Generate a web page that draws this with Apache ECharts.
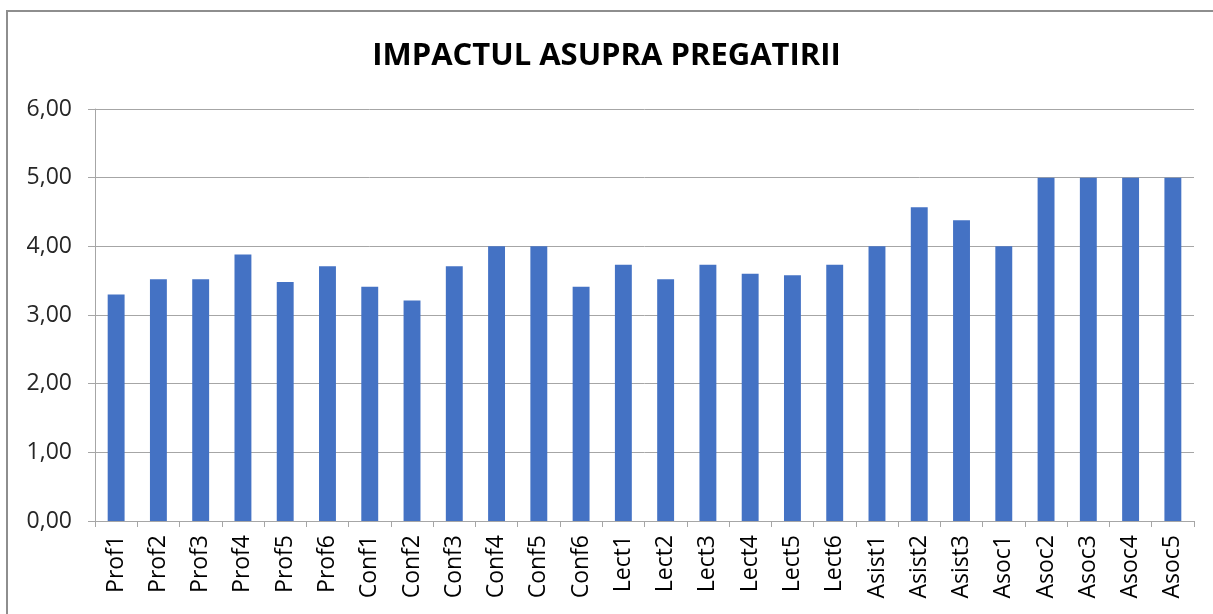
<!DOCTYPE html>
<html>
<head>
<meta charset="utf-8">
<script src="https://cdn.jsdelivr.net/npm/echarts@6/dist/echarts.min.js"></script>
<style>
  html, body { margin: 0; padding: 0; background: #fff; overflow: hidden; }
  #frame {
    position: absolute; left: 6px; top: 10px;
    width: 1240px; height: 640px;
    border: 2px solid #8e8e8e; box-sizing: border-box;
  }
  #chart { position: absolute; left: 0; top: 0; width: 1213px; height: 614px; }
</style>
</head>
<body>
<div id="frame"></div>
<div id="chart"></div>
<script>
const categories = [
  "Prof1", "Prof2", "Prof3", "Prof4", "Prof5", "Prof6",
  "Conf1", "Conf2", "Conf3", "Conf4", "Conf5", "Conf6",
  "Lect1", "Lect2", "Lect3", "Lect4", "Lect5", "Lect6",
  "Asist1", "Asist2", "Asist3",
  "Asoc1", "Asoc2", "Asoc3", "Asoc4", "Asoc5"
];
const values = [
  3.30, 3.52, 3.52, 3.88, 3.48, 3.71,
  3.41, 3.21, 3.71, 4.00, 4.00, 3.41,
  3.73, 3.52, 3.73, 3.60, 3.58, 3.73,
  4.00, 4.57, 4.38,
  4.00, 5.00, 5.00, 5.00, 5.00
];
const chartTitle = "IMPACTUL ASUPRA PREGATIRII";

const chart = echarts.init(document.getElementById("chart"));
chart.setOption({
  animation: false,
  title: {
    text: chartTitle,
    left: "center",
    top: 36,
    textStyle: {
      fontFamily: "Open Sans",
      fontWeight: "bold",
      fontSize: 31,
      color: "#000"
    }
  },
  grid: { left: 95, right: 19, top: 109, bottom: 93, containLabel: false },
  xAxis: {
    type: "category",
    data: categories,
    axisLine: { lineStyle: { color: "#a6a6a6", width: 1 } },
    axisTick: { show: true, length: 6, lineStyle: { color: "#a6a6a6" } },
    axisLabel: {
      rotate: 90,
      margin: 14,
      fontFamily: "Open Sans",
      fontSize: 23,
      color: "#000",
      interval: 0
    }
  },
  yAxis: {
    type: "value",
    min: 0,
    max: 6,
    interval: 1,
    axisLine: { show: true, lineStyle: { color: "#a6a6a6" } },
    axisTick: { show: true, length: 7, lineStyle: { color: "#a6a6a6" } },
    splitLine: { lineStyle: { color: "#a6a6a6", width: 1 } },
    axisLabel: {
      margin: 23,
      fontFamily: "Open Sans",
      fontSize: 23,
      color: "#262626",
      formatter: v => v.toFixed(2).replace(".", ",")
    }
  },
  series: [{
    type: "bar",
    data: values,
    barWidth: "40%",
    itemStyle: { color: "#4472c4" }
  }]
});
</script>
</body>
</html>
